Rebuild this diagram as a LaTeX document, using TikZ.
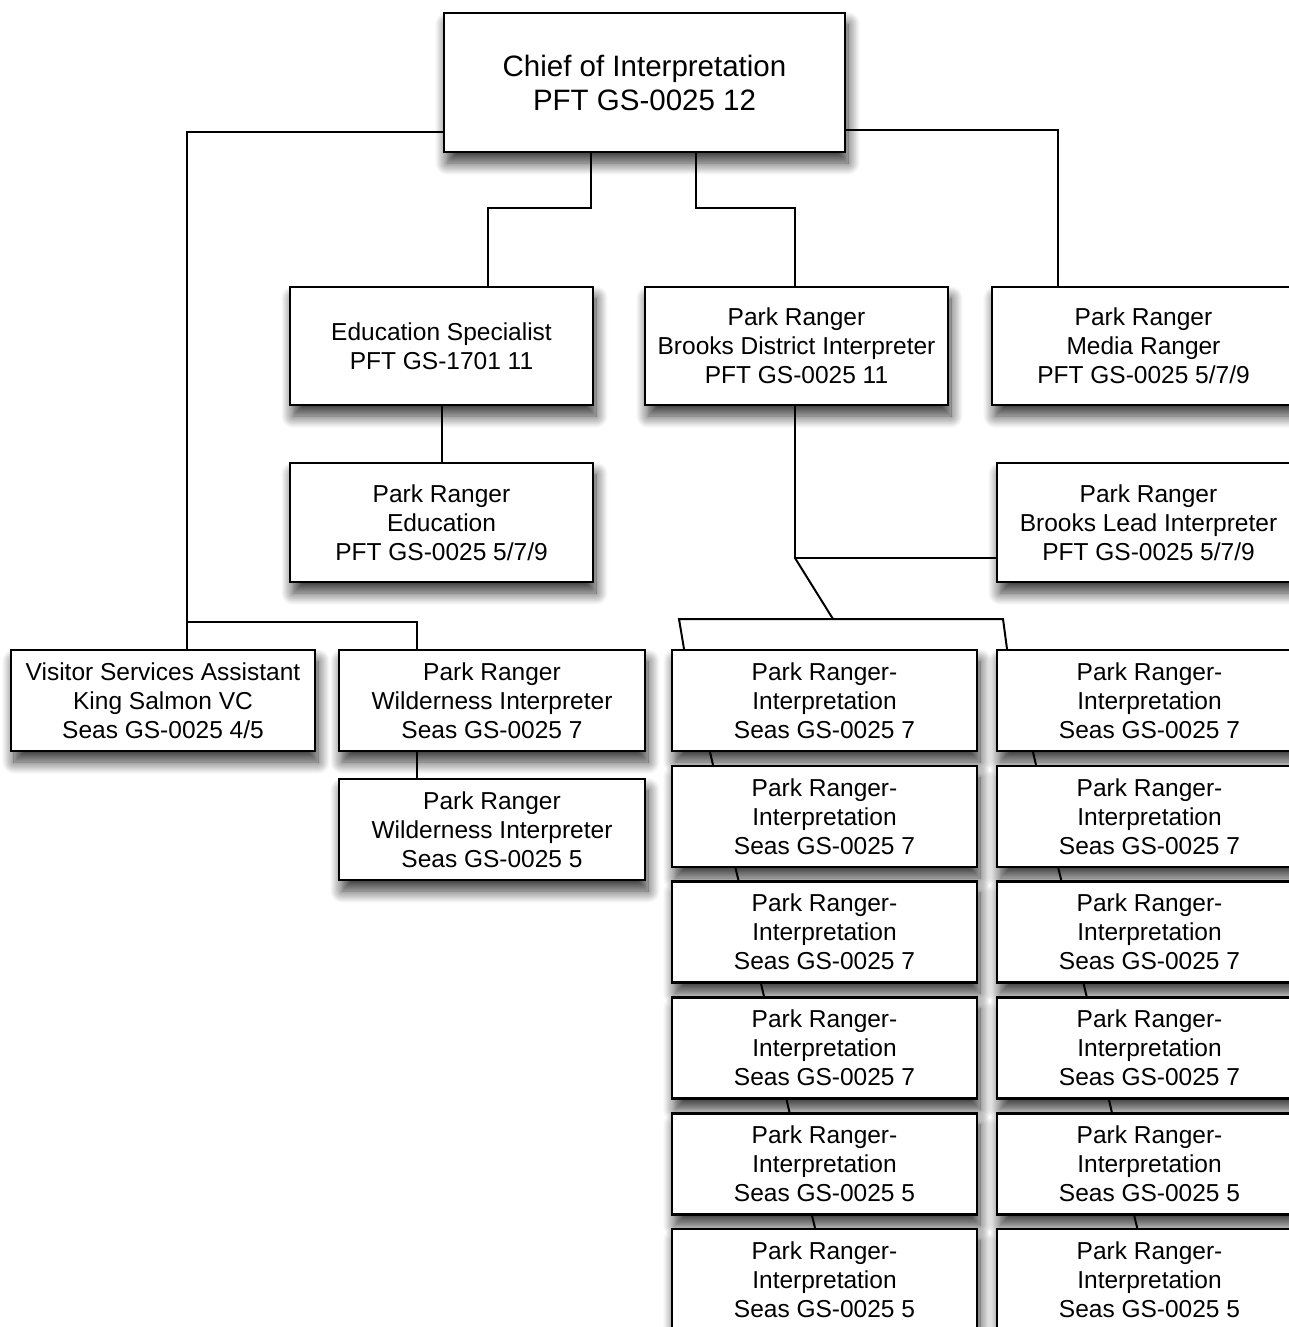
\documentclass[tikz,border=0pt]{standalone}
\usepackage{fontspec}
\setmainfont{Liberation Sans}
\usetikzlibrary{calc, positioning, shadows.blur}

\tikzset{
  post/.style={draw, line width=2.2pt, fill=white, inner sep=0pt, align=center,
    font=\fontsize{24.5}{29}\selectfont, text=black,
    minimum width=303pt, minimum height=118pt,
    blur shadow={shadow xshift=3pt, shadow yshift=-11pt, shadow blur radius=12pt,
      shadow blur steps=14, shadow opacity=80}},
  small/.style={post, minimum height=101pt},
  link/.style={line width=2pt, black}
}

\begin{document}
\begin{tikzpicture}[x=1pt, y=-1pt]
    \useasboundingbox (0,0) rectangle (1289,1327);
    \clip (0,0) rectangle (1289,1327);

    % top of the tree
    \node[post, minimum width=401pt, minimum height=139pt, font=\fontsize{29.5}{34}\selectfont] (chief) at (644.5,82.5) {Chief of Interpretation\\PFT GS-0025 12};

    % second level
    \node[post] (edu) at (441.5,346) {Education Specialist\\PFT GS-1701 11};
    \node[post] (brooks) at (796.5,346) {Park Ranger\\Brooks District Interpreter\\PFT GS-0025 11};
    \node[post] (media) at (1143.5,346) {Park Ranger\\Media Ranger\\PFT GS-0025 5/7/9};
    \node[post, minimum height=119pt] (eduranger) at (441.5,522.5) {Park Ranger\\Education\\PFT GS-0025 5/7/9};
    \node[post, minimum height=119pt] (lead) at (1148.5,522.5) {Park Ranger\\Brooks Lead Interpreter\\PFT GS-0025 5/7/9};

    % seasonal staff, left
    \node[small, minimum width=304pt] (vsa) at (163,700.5) {Visitor Services Assistant\\King Salmon VC\\Seas GS-0025 4/5};
    \node[small, minimum width=306pt] (wildA) at (492,700.5) {Park Ranger\\Wilderness Interpreter\\Seas GS-0025 7};
    \node[small, minimum width=306pt] (wildB) at (492,829.5) {Park Ranger\\Wilderness Interpreter\\Seas GS-0025 5};

    % seasonal interpreters, two columns
    \foreach \i/\y/\g in {1/700.5/7, 2/816.5/7, 3/932/7, 4/1048/7, 5/1164/5, 6/1279.5/5} {
        \node[small, minimum width=305pt] (l\i) at (824.5,\y) {Park Ranger-\\Interpretation\\Seas GS-0025 \g};
        \node[small, minimum width=305pt] (r\i) at (1149.5,\y) {Park Ranger-\\Interpretation\\Seas GS-0025 \g};
    }

    % connectors
    \coordinate (lt) at (187,132);
    \coordinate (lb) at (187,622);
    \coordinate (wt) at (417,622);
    \coordinate (rt) at (1058,130);
    \coordinate (ml) at (591,208);
    \coordinate (el) at (488,208);
    \coordinate (mr) at (696,208);
    \coordinate (bt) at (795,208);
    \coordinate (bk) at (795,558);
    \coordinate (fk) at (833,619);
    \coordinate (fl) at (679,619);
    \coordinate (fr) at (1003,619);

    \draw[link] (chief.west |- lt) -- (lt) -- (lt |- vsa.north);
    \draw[link] (lb) -- (wt) -- (wt |- wildA.north);
    \draw[link] (wt |- wildA.south) -- (wt |- wildB.north);
    \draw[link] (chief.east |- rt) -- (rt) -- (rt |- media.north);
    \draw[link] (ml |- chief.south) -- (ml) -- (el) -- (el |- edu.north);
    \draw[link] (mr |- chief.south) -- (mr) -- (bt) -- (bt |- brooks.north);
    \draw[link] (edu) -- (eduranger);
    \draw[link] (bk |- brooks.south) -- (bk) -- (bk -| lead.west);
    \draw[link] (bk) -- (fk);
    \draw[link] ([xshift=-140.5pt]l1.north) -- (fl) -- (fr) -- ([xshift=-142.5pt]r1.north);
    \foreach \i in {1,...,5} {
        \pgfmathtruncatemacro\j{\i+1}
        \pgfmathsetmacro\dl{-114.5+25.5*(\i-1)}
        \pgfmathsetmacro\dr{-116.5+25.3*(\i-1)}
        \draw[link] ([xshift=\dl pt]l\i.south) -- ([xshift=\dl pt+3pt]l\j.north);
        \draw[link] ([xshift=\dr pt]r\i.south) -- ([xshift=\dr pt+3pt]r\j.north);
    }
\end{tikzpicture}
\end{document}
